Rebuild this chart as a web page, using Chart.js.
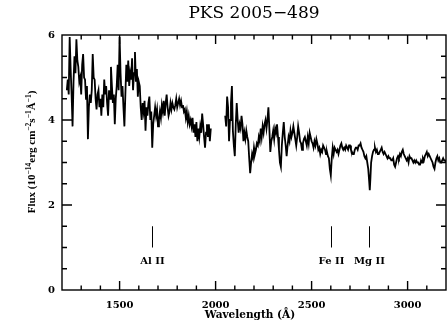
<!DOCTYPE html>
<html>
<head>
<meta charset="utf-8">
<title>PKS 2005-489</title>
<script src="https://cdn.jsdelivr.net/npm/chart.js@4"></script>
<style>
  html, body { margin: 0; padding: 0; background: #fff; }
</style>
</head>
<body>
<canvas id="spectrumChart" width="447" height="323"></canvas>
<script>
'use strict';

// blue part of the spectrum (before the gap)
let wave1 = [
  1225, 1230, 1235, 1240, 1245, 1250, 1255, 1260, 1265, 1270, 1275, 1280, 1285, 1290, 1295,
  1300, 1305, 1310, 1315, 1320, 1325, 1330, 1335, 1340, 1345, 1350, 1355, 1360, 1365, 1370,
  1375, 1380, 1385, 1390, 1395, 1400, 1405, 1410, 1415, 1420, 1425, 1430, 1435, 1440, 1445,
  1450, 1455, 1460, 1465, 1470, 1475, 1480, 1485, 1490, 1495, 1500, 1505, 1510, 1515, 1520,
  1525, 1530, 1535, 1540, 1545, 1550, 1555, 1560, 1565, 1570, 1575, 1580, 1585, 1590, 1595,
  1600, 1605, 1610, 1615, 1620, 1625, 1630, 1635, 1640, 1645, 1650, 1655, 1660, 1665, 1670,
  1675, 1680, 1685, 1690, 1695, 1700, 1705, 1710, 1715, 1720, 1725, 1730, 1735, 1740, 1745,
  1750, 1755, 1760, 1765, 1770, 1775, 1780, 1785, 1790, 1795, 1800, 1805, 1810, 1815, 1820,
  1825, 1830, 1835, 1840, 1845, 1850, 1855, 1860, 1865, 1870, 1875, 1880, 1885, 1890, 1895,
  1900, 1905, 1910, 1915, 1920, 1925, 1930, 1935, 1940, 1945, 1950, 1955, 1960, 1965, 1970,
  1975
];
let flux1 = [
  4.70, 4.95, 4.60, 5.95, 5.20, 4.60, 3.85, 4.90, 5.50, 5.10, 5.90, 5.40, 5.25, 4.90, 5.00,
  4.60, 5.30, 5.55, 5.00, 4.95, 4.50, 4.80, 3.55, 4.30, 4.60, 4.40, 4.70, 5.55, 5.00, 4.95,
  4.50, 4.25, 4.60, 4.70, 4.30, 4.50, 4.10, 4.60, 4.30, 4.95, 4.60, 4.80, 4.40, 4.10, 4.70,
  4.50, 5.25, 4.80, 4.40, 4.60, 3.90, 4.50, 4.80, 5.30, 4.70, 5.95, 5.10, 4.55, 4.80, 4.30,
  3.85, 4.60, 5.30, 4.90, 5.40, 4.80, 5.10, 4.95, 5.45, 4.70, 5.10, 5.60, 4.90, 5.20, 4.55,
  4.90, 4.80, 4.30, 4.00, 4.40, 4.20, 4.45, 3.75, 4.30, 4.10, 4.40, 4.55, 4.00, 4.20, 3.35,
  3.90, 4.10, 4.30, 4.10, 4.25, 3.85, 4.00, 4.20, 4.05, 4.35, 4.20, 4.45, 4.10, 4.40, 4.60,
  4.30, 4.10, 4.20, 4.40, 4.25, 4.40, 4.30, 4.25, 4.35, 4.50, 4.30, 4.40, 4.50, 4.35, 4.45,
  4.30, 4.35, 4.20, 4.25, 4.05, 4.20, 3.95, 4.10, 3.90, 4.00, 3.85, 4.05, 3.70, 3.90, 3.60,
  3.95, 3.50, 3.80, 3.60, 3.85, 3.70, 4.15, 3.90, 3.60, 3.35, 3.70, 3.90, 3.60, 3.90, 3.50,
  3.80
];

// red part of the spectrum (after the gap)
let wave2 = [
  2050, 2055, 2060, 2065, 2070, 2075, 2080, 2085, 2090, 2095, 2100, 2105, 2110, 2115, 2120,
  2125, 2130, 2135, 2140, 2145, 2150, 2155, 2160, 2165, 2170, 2175, 2180, 2185, 2190, 2195,
  2200, 2205, 2210, 2215, 2220, 2225, 2230, 2235, 2240, 2245, 2250, 2255, 2260, 2265, 2270,
  2275, 2280, 2285, 2290, 2295, 2300, 2305, 2310, 2315, 2320, 2325, 2330, 2335, 2340, 2345,
  2350, 2355, 2360, 2365, 2370, 2375, 2380, 2385, 2390, 2395, 2400, 2405, 2410, 2415, 2420,
  2425, 2430, 2435, 2440, 2445, 2450, 2455, 2460, 2465, 2470, 2475, 2480, 2485, 2490, 2495,
  2500, 2505, 2510, 2515, 2520, 2525, 2530, 2535, 2540, 2545, 2550, 2555, 2560, 2565, 2570,
  2575, 2580, 2585, 2590, 2595, 2600, 2605, 2610, 2615, 2620, 2625, 2630, 2635, 2640, 2645,
  2650, 2655, 2660, 2665, 2670, 2675, 2680, 2685, 2690, 2695, 2700, 2705, 2710, 2715, 2720,
  2725, 2730, 2735, 2740, 2745, 2750, 2755, 2760, 2765, 2770, 2775, 2780, 2785, 2790, 2795,
  2800, 2803, 2806, 2810, 2815, 2820, 2825, 2830, 2835, 2840, 2845, 2850, 2855, 2860, 2865,
  2870, 2875, 2880, 2885, 2890, 2895, 2900, 2905, 2910, 2915, 2920, 2925, 2930, 2935, 2940,
  2945, 2950, 2955, 2960, 2965, 2970, 2975, 2980, 2985, 2990, 2995, 3000, 3005, 3010, 3015,
  3020, 3025, 3030, 3035, 3040, 3045, 3050, 3055, 3060, 3065, 3070, 3075, 3080, 3085, 3090,
  3095, 3100, 3105, 3110, 3115, 3120, 3125, 3130, 3135, 3140, 3145, 3150, 3155, 3160, 3165,
  3170, 3175, 3180, 3185, 3190, 3195, 3200
];
let flux2 = [
  4.10, 3.85, 4.55, 4.30, 3.50, 4.00, 4.40, 4.80, 3.75, 3.40, 3.15, 3.90, 4.40, 4.00, 3.70,
  3.90, 3.80, 4.10, 3.90, 3.50, 3.70, 3.55, 3.75, 3.60, 3.50, 3.10, 2.75, 3.00, 3.20, 3.10,
  3.35, 3.20, 3.30, 3.45, 3.40, 3.60, 3.50, 3.80, 3.60, 3.85, 3.70, 3.90, 4.00, 3.80, 4.00,
  4.30, 3.80, 3.25, 3.50, 3.60, 3.75, 3.55, 3.80, 3.70, 3.90, 3.60, 3.30, 3.00, 2.90, 3.40,
  3.70, 3.95, 3.60, 3.40, 3.15, 3.40, 3.60, 3.50, 3.75, 3.60, 3.70, 3.85, 3.70, 3.55, 3.40,
  3.60, 3.85, 3.70, 3.50, 3.45, 3.30, 3.45, 3.55, 3.60, 3.50, 3.40, 3.60, 3.45, 3.70, 3.60,
  3.50, 3.45, 3.35, 3.50, 3.40, 3.55, 3.45, 3.30, 3.35, 3.20, 3.30, 3.25, 3.40, 3.35, 3.30,
  3.20, 3.25, 3.15, 3.10, 2.85, 2.70, 3.10, 3.35, 3.20, 3.35, 3.30, 3.25, 3.30, 3.20, 3.30,
  3.40, 3.45, 3.35, 3.30, 3.35, 3.30, 3.40, 3.35, 3.30, 3.40, 3.40, 3.30, 3.25, 3.20, 3.20,
  3.30, 3.35, 3.35, 3.30, 3.40, 3.40, 3.45, 3.35, 3.30, 3.25, 3.15, 3.10, 3.15, 3.00, 2.85,
  2.55, 2.35, 2.60, 3.00, 3.15, 3.25, 3.30, 3.35, 3.25, 3.30, 3.20, 3.20, 3.25, 3.30, 3.35,
  3.25, 3.20, 3.25, 3.20, 3.15, 3.10, 3.15, 3.10, 3.10, 3.05, 3.05, 3.10, 2.95, 2.90, 3.00,
  3.10, 3.15, 3.10, 3.20, 3.15, 3.25, 3.30, 3.20, 3.15, 3.10, 3.05, 3.10, 3.00, 3.15, 3.10,
  3.10, 3.05, 3.00, 3.05, 3.00, 3.05, 3.00, 3.00, 2.95, 2.95, 3.05, 3.00, 3.10, 3.05, 3.15,
  3.20, 3.25, 3.15, 3.20, 3.15, 3.10, 3.05, 3.00, 2.90, 2.85, 3.00, 3.10, 3.15, 3.05, 3.10,
  3.00, 3.00, 3.05, 3.10, 3.05, 3.05, 3.00
];

let xTicks = [1500, 2000, 2500, 3000];
let yTicks = [0, 2, 4, 6];

// absorption line markers
let lineNames = ['Al II', 'Fe II', 'Mg II'];
let lineWaves = [1670, 2600, 2800];
let markLow = 1.0;
let markHigh = 1.5;
let labelFlux = 0.68;

// y title pieces: [text, superscript?]
let yTitleParts = [
  ['Flux (10', false], ['\u221214', true], ['erg cm', false], ['\u22122', true],
  ['s', false], ['\u22121', true], ['\u00c5', false], ['\u22121', true], [')', false]
];

let serif = '"DejaVu Serif", "Liberation Serif", serif';
let narrowSerif = '"Liberation Serif", "DejaVu Serif", serif';

function toPoints(waves, fluxes) {
  let pts = [];
  for (let i = 0; i < waves.length; i++) {
    pts.push({ x: waves[i], y: fluxes[i] });
  }
  return pts;
}

function drawYTitle(ctx, cx, cy) {
  let mainFont = 'bold 11px ' + narrowSerif;
  let supFont = 'bold 7.5px ' + narrowSerif;
  let total = 0;
  for (let p of yTitleParts) {
    ctx.font = p[1] ? supFont : mainFont;
    total += ctx.measureText(p[0]).width;
  }
  ctx.save();
  ctx.translate(cx, cy);
  ctx.rotate(-Math.PI / 2);
  ctx.textAlign = 'left';
  let pos = -total / 2;
  for (let p of yTitleParts) {
    ctx.font = p[1] ? supFont : mainFont;
    ctx.fillText(p[0], pos, p[1] ? -4.5 : 0);
    pos += ctx.measureText(p[0]).width;
  }
  ctx.restore();
}

// frame, inward ticks, line markers and the texts
let spectrumDecor = {
  id: 'spectrumDecor',
  afterDatasetsDraw(chart) {
    let ctx = chart.ctx;
    let a = chart.chartArea;
    let xs = chart.scales.x;
    let ys = chart.scales.y;
    ctx.save();
    ctx.strokeStyle = '#000';
    ctx.lineWidth = 1.4;
    ctx.strokeRect(a.left, a.top, a.right - a.left, a.bottom - a.top);

    ctx.beginPath();
    for (let w = 1300; w < 3200; w += 100) {
      let px = xs.getPixelForValue(w);
      let len = (w % 500 === 0) ? 9 : 4.5;
      ctx.moveTo(px, a.bottom);
      ctx.lineTo(px, a.bottom - len);
      ctx.moveTo(px, a.top);
      ctx.lineTo(px, a.top + len);
    }
    for (let k = 1; k < 12; k++) {
      let py = ys.getPixelForValue(k * 0.5);
      let len = (k % 4 === 0) ? 10 : 5;
      ctx.moveTo(a.left, py);
      ctx.lineTo(a.left + len, py);
      ctx.moveTo(a.right, py);
      ctx.lineTo(a.right - len, py);
    }
    ctx.stroke();

    ctx.lineWidth = 1;
    ctx.fillStyle = '#000';
    ctx.font = 'bold 10px ' + serif;
    ctx.textAlign = 'center';
    ctx.textBaseline = 'middle';
    for (let i = 0; i < lineWaves.length; i++) {
      let px = Math.round(xs.getPixelForValue(lineWaves[i])) + 0.5;
      ctx.beginPath();
      ctx.moveTo(px, ys.getPixelForValue(markLow));
      ctx.lineTo(px, ys.getPixelForValue(markHigh));
      ctx.stroke();
      ctx.fillText(lineNames[i], px, ys.getPixelForValue(labelFlux));
    }

    // titles
    let midX = (a.left + a.right) / 2;
    ctx.textBaseline = 'alphabetic';
    ctx.font = '17px ' + serif;
    ctx.fillText('PKS 2005\u2212489', midX, 18);
    ctx.font = 'bold 10.5px ' + serif;
    ctx.fillText('Wavelength (\u00c5)', midX - 4, 318);
    drawYTitle(ctx, 35, 152);
    ctx.restore();
  }
};

let data = {
  datasets: [{
    data: toPoints(wave1, flux1),
    borderColor: '#000',
    borderWidth: 1.8,
    pointRadius: 0,
    tension: 0
  },
  {
    data: toPoints(wave2, flux2),
    borderColor: '#000',
    borderWidth: 1.8,
    pointRadius: 0,
    tension: 0
  }]
};

let config = {
  type: 'line',
  data: data,
  options: {
    responsive: false,
    animation: false,
    devicePixelRatio: 1,
    layout: { padding: { top: 35, right: 1, left: 0, bottom: 0 } },
    plugins: {
      legend: { display: false },
      tooltip: { enabled: false }
    },
    scales: {
      x: {
        type: 'linear',
        min: 1200,
        max: 3200,
        grid: { display: false, drawTicks: false },
        border: { display: false },
        afterBuildTicks: (scale) => { scale.ticks = xTicks.map(v => ({ value: v })); },
        afterFit: (scale) => { scale.height = 33; },
        ticks: {
          padding: 9,
          color: '#000',
          font: { family: serif, weight: 'bold', size: 10 },
          callback: (v) => String(v)
        }
      },
      y: {
        min: 0,
        max: 6,
        grid: { display: false, drawTicks: false },
        border: { display: false },
        afterBuildTicks: (scale) => { scale.ticks = yTicks.map(v => ({ value: v })); },
        afterFit: (scale) => { scale.width = 62; },
        ticks: {
          padding: 7,
          color: '#000',
          font: { family: serif, weight: 'bold', size: 10 },
          callback: (v) => String(v)
        }
      }
    }
  },
  plugins: [spectrumDecor]
};

let spectrumChart = new Chart(document.getElementById('spectrumChart'), config);
</script>
</body>
</html>
